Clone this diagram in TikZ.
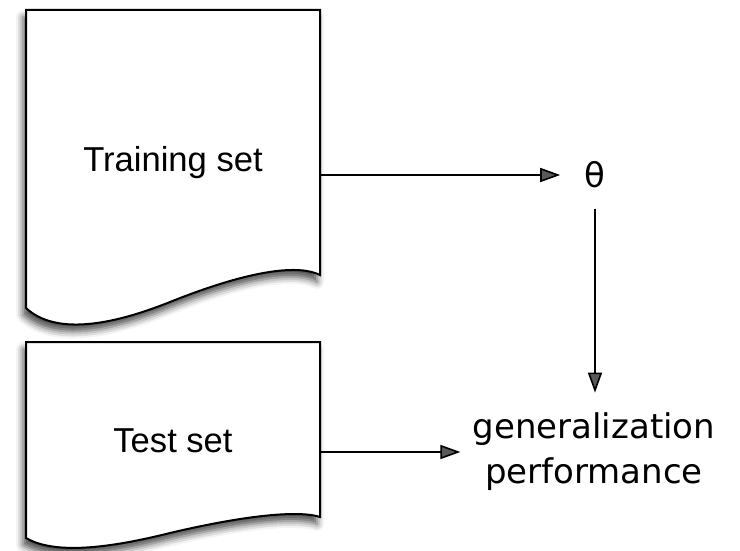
\documentclass[tikz,border=0pt]{standalone}
\usepackage{fontspec}
\setmainfont{Liberation Sans}
\newfontfamily\labelfont{DejaVu Sans}
\usetikzlibrary{arrows.meta,shadows.blur}
\tikzset{
	docpage/.style={line width=1pt, fill=white,
		blur shadow={shadow xshift=-1.5pt, shadow yshift=-3.5pt, shadow blur radius=3.5pt, shadow opacity=70}},
	doclabel/.style={inner sep=0pt, font=\fontsize{17.3}{20}\selectfont},
	result/.style={inner sep=0pt, align=center, font=\labelfont\fontsize{17}{22.5}\selectfont},
	flow/.style={line width=.8pt, -{Triangle[length=10pt,width=7pt]}}
}
\begin{document}
\begin{tikzpicture}[x=.5pt, y=-.5pt]
		\useasboundingbox (0,0) rectangle (740,551);
		% training set page
		\draw [docpage] (26,10) -- (320,10) -- (320,275)
			.. controls (300,265) and (255,268) .. (170,302)
			.. controls (110,326) and (55,335) .. (26,308) -- cycle;
		% test set page
		\draw [docpage] (26,342) -- (320,342) -- (320,517)
			.. controls (302,511) and (255,513) .. (170,533)
			.. controls (110,548) and (55,555) .. (26,538) -- cycle;
		\node [doclabel] (train) at (173,163) {Training set};
		\node [doclabel] (test) at (173,441) {Test set};
		\coordinate (trainout) at (320,175);
		\coordinate (testout) at (320,452);
		\node [result] (theta) at (595,175) {θ};
		\node [result] (gen) at (594,452) {generalization\\performance};
		\draw [flow, shorten >=12pt] (trainout) -- (theta);
		\draw [flow, shorten <=10pt, shorten >=10pt] (theta) -- (theta |- gen.north);
		\draw [flow, shorten >=6pt] (testout) -- (testout -| gen.west);
	\end{tikzpicture}
\end{document}
